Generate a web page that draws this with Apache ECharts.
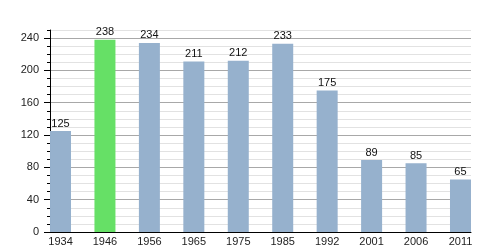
<!DOCTYPE html>
<html>
<head>
<meta charset="utf-8">
<script src="https://cdn.jsdelivr.net/npm/echarts@6/dist/echarts.min.js"></script>
<style>html,body{margin:0;padding:0;background:#fff}#c{width:500px;height:250px}</style>
</head>
<body>
<div id="c"></div>
<script>
var years = ['1934','1946','1956','1965','1975','1985','1992','2001','2006','2011'];
var population = [125, 238, 234, 211, 212, 233, 175, 89, 85, 65];
var yTickLabels = [0, 40, 80, 120, 160, 200, 240];
var highlightYear = '1946';

var blue = '#96b1cd', green = '#66e066';
var font = 'Liberation Sans, Arial, sans-serif';
var pad = 0.2365;

var chart = echarts.init(document.getElementById('c'));
var data = population.map(function (v, i) {
  return {
    value: [i, v],
    itemStyle: { color: years[i] === highlightYear ? green : blue }
  };
});
chart.setOption({
  animation: false,
  grid: { left: 50, right: 29, top: 30, bottom: 18, containLabel: false },
  xAxis: {
    type: 'value', min: -pad, max: years.length - 1 + pad,
    axisLine: { show: true, onZero: false, lineStyle: { color: '#000', width: 1 } },
    axisTick: { show: false },
    splitLine: { show: false },
    axisLabel: {
      customValues: years.map(function (y, i) { return i; }),
      formatter: function (v) { return years[Math.round(v)]; },
      color: '#222', fontSize: 11, fontFamily: font, margin: 4
    }
  },
  yAxis: [{
    type: 'value', min: 0, max: 250, interval: 10,
    axisLine: { show: true, onZero: false, lineStyle: { color: '#000', width: 1 } },
    axisTick: { show: true, inside: false, length: 3, lineStyle: { color: '#000' } },
    axisLabel: {
      customValues: yTickLabels,
      color: '#222', fontSize: 11, fontFamily: font, margin: 11
    },
    splitLine: { show: true, lineStyle: { color: ['#a8a8a8', '#e2e2e2', '#e2e2e2', '#e2e2e2'], width: 1 } }
  }, {
    type: 'value', min: 0, max: 250, position: 'left', offset: 0,
    axisLine: { show: false, onZero: false },
    axisTick: { show: true, inside: false, length: 6, customValues: yTickLabels, lineStyle: { color: '#000' } },
    axisLabel: { show: false },
    splitLine: { show: false }
  }],
  series: [{
    type: 'bar',
    data: data,
    barWidth: 21,
    z: 3,
    label: {
      show: true, position: 'top', distance: 2,
      formatter: function (p) { return p.value[1]; },
      color: '#111', fontSize: 11, fontFamily: font
    }
  }]
});
</script>
</body>
</html>
